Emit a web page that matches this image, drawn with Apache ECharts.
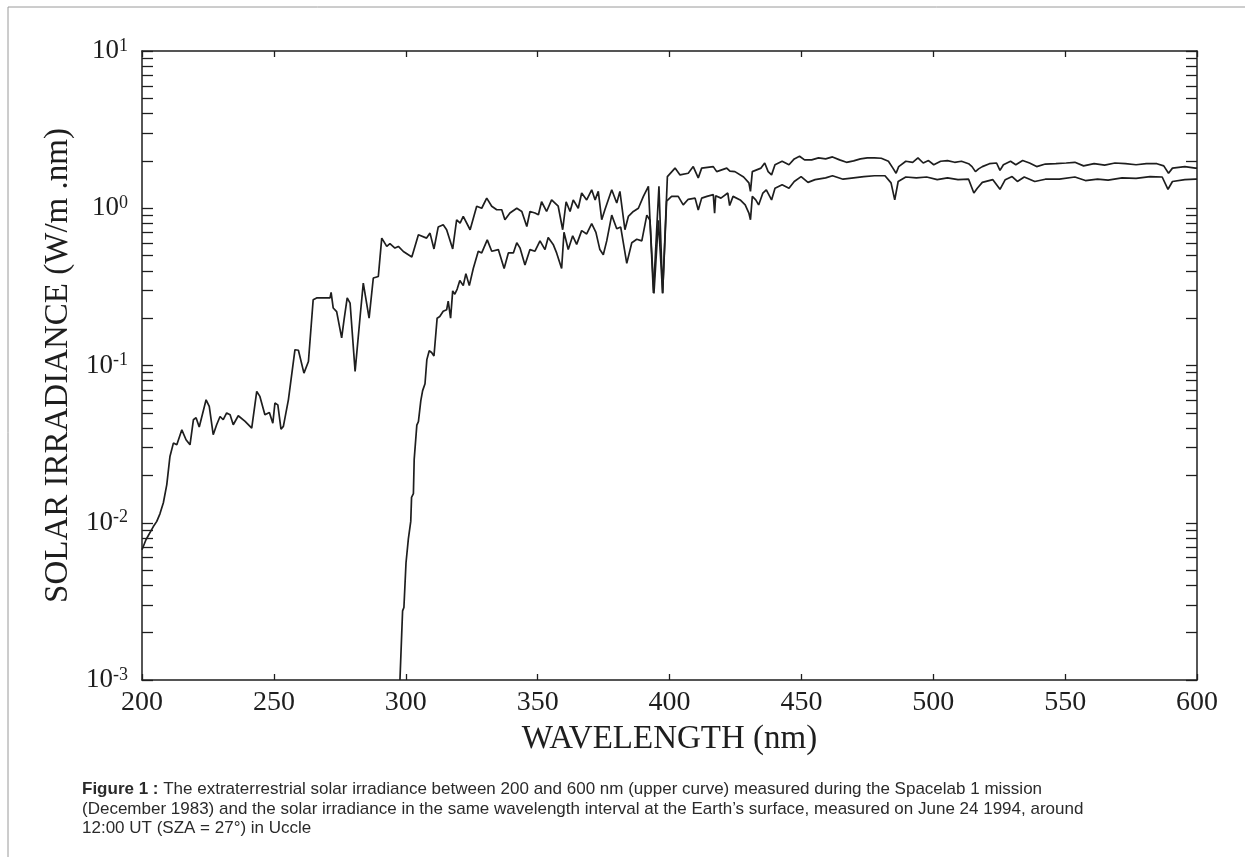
<!DOCTYPE html>
<html>
<head>
<meta charset="utf-8">
<script src="https://cdn.jsdelivr.net/npm/echarts@6.0.0/dist/echarts.min.js"></script>
<style>
  html, body { margin: 0; padding: 0; background: #fff; }
  #chart { width: 1245px; height: 857px; }
</style>
</head>
<body>
<div id="chart"></div>
<script>
// extraterrestrial irradiance (upper curve)
const upperWl = [200.0, 201.5, 204.3, 205.6, 206.8, 208.1, 209.4, 210.6, 211.9, 213.2, 215.1, 216.7, 218.2, 219.5, 220.5, 221.7,
  224.3, 225.5, 227.0, 228.3, 229.6, 230.8, 232.1, 233.4, 234.6, 236.5, 239.1, 241.6, 243.5, 244.7, 246.6, 248.3, 249.6,
  250.4, 251.5, 252.7, 253.6, 255.5, 258.0, 259.3, 261.4, 263.1, 263.7, 264.9, 266.2, 271.3, 271.7, 272.5, 273.8, 275.7,
  276.6, 277.8, 278.9, 280.8, 282.7, 283.9, 284.5, 286.1, 286.4, 287.7, 289.6, 290.9, 292.8, 294.0, 295.9, 297.2, 299.1,
  302.3, 304.8, 307.9, 309.2, 310.7, 312.3, 314.2, 315.5, 317.8, 319.3, 320.6, 321.8, 324.4, 326.9, 328.8, 330.7, 332.6,
  334.5, 336.4, 337.6, 339.5, 342.1, 344.0, 345.9, 347.1, 349.0, 350.3, 351.5, 353.4, 355.3, 357.8, 359.5, 360.8, 362.3,
  363.5, 365.4, 366.7, 368.6, 370.5, 371.8, 373.0, 374.3, 375.5, 378.1, 380.0, 381.2, 383.1, 384.4, 386.3, 388.2, 390.1,
  392.0, 393.9, 396.0, 397.4, 399.2, 402.1, 404.0, 407.1, 409.0, 410.9, 412.2, 416.6, 417.9, 421.7, 422.9, 424.8, 428.1,
  430.1, 430.7, 431.4, 434.7, 436.1, 437.4, 438.7, 440.0, 442.7, 445.3, 447.3, 449.3, 451.2, 453.9, 456.5, 459.2, 461.8,
  464.5, 467.1, 469.8, 472.4, 475.0, 477.7, 480.3, 483.0, 484.7, 485.9, 486.9, 489.6, 492.2, 494.2, 496.2, 498.2, 500.2,
  502.8, 505.4, 508.1, 510.7, 513.4, 514.7, 516.0, 517.2, 518.6, 521.3, 524.0, 525.3, 526.6, 529.3, 531.3, 533.9, 536.5,
  539.2, 542.5, 546.5, 550.4, 553.7, 557.0, 561.0, 565.0, 568.9, 572.9, 576.9, 580.8, 584.8, 587.4, 589.2, 590.7, 595.4,
  599.4, 600.0];
const upperVal = [0.00673, 0.0078, 0.00946, 0.0102, 0.0114, 0.0134, 0.0175, 0.0264, 0.0321, 0.0313, 0.039, 0.0337, 0.0313, 0.0452, 0.0466, 0.0406,
  0.0605, 0.055, 0.0363, 0.042, 0.0474, 0.0452, 0.0499, 0.0486, 0.042, 0.0479, 0.0441, 0.040, 0.0684, 0.0636, 0.0486, 0.0503, 0.043,
  0.0577, 0.0562, 0.0394, 0.041, 0.0605, 0.126, 0.125, 0.0895, 0.106, 0.109, 0.262, 0.269, 0.269, 0.292, 0.232, 0.22, 0.15,
  0.195, 0.269, 0.249, 0.0917, 0.205, 0.334, 0.342, 0.2, 0.205, 0.36, 0.368, 0.646, 0.572, 0.595, 0.558, 0.572, 0.531,
  0.49, 0.678, 0.646, 0.695, 0.551, 0.759, 0.785, 0.73, 0.551, 0.845, 0.805, 0.887, 0.73, 1.03, 1.0, 1.16, 1.03,
  0.978, 0.978, 0.845, 0.932, 1.0, 0.954, 0.766, 0.954, 0.932, 0.91, 1.10, 0.954, 1.13, 1.03, 0.73, 1.10, 0.954,
  1.13, 1.0, 1.25, 1.13, 1.31, 1.13, 1.28, 0.845, 0.978, 1.31, 1.08, 1.28, 0.73, 0.887, 0.954, 1.0, 1.19,
  1.38, 0.289, 1.38, 0.289, 1.59, 1.80, 1.63, 1.67, 1.84, 1.56, 1.80, 1.84, 1.71, 1.80, 1.72, 1.71, 1.58,
  1.45, 1.28, 1.71, 1.80, 1.94, 1.71, 1.63, 1.89, 1.99, 1.89, 2.06, 2.14, 2.03, 2.03, 2.09, 2.06, 2.12,
  2.03, 1.96, 2.0, 2.06, 2.09, 2.09, 2.08, 1.99, 1.80, 1.67, 1.84, 1.99, 1.96, 2.09, 1.94, 2.01, 1.89,
  1.99, 2.01, 1.96, 1.99, 1.92, 1.84, 1.71, 1.78, 1.84, 1.92, 1.94, 1.74, 1.89, 1.99, 1.89, 2.01, 1.94,
  1.84, 1.91, 1.92, 1.94, 1.96, 1.86, 1.92, 1.88, 1.94, 1.92, 1.89, 1.92, 1.92, 1.86, 1.67, 1.80, 1.84,
  1.80, 1.80];

// irradiance at the Earth's surface, Uccle (lower curve)
const lowerWl = [297.8, 298.5, 298.8, 299.3, 300.1, 301.0, 301.9, 302.2, 302.9, 303.2, 304.2, 304.8, 305.7, 306.4, 307.3, 308.0,
  308.9, 309.8, 310.7, 311.9, 312.9, 314.2, 315.5, 316.1, 317.0, 317.8, 318.6, 319.5, 320.5, 321.8, 322.8, 324.1, 325.6,
  327.5, 328.8, 330.9, 332.6, 335.1, 337.3, 338.9, 340.8, 342.1, 343.3, 345.2, 347.1, 349.0, 350.9, 352.8, 354.0, 355.9,
  357.2, 359.1, 360.0, 361.6, 363.3, 364.8, 366.7, 368.6, 370.5, 372.1, 373.6, 374.9, 376.2, 378.1, 380.0, 381.5, 383.8,
  385.7, 387.6, 389.5, 391.4, 392.6, 394.1, 395.8, 397.4, 398.9, 400.8, 403.3, 405.2, 407.1, 409.7, 410.9, 412.2, 414.2,
  416.6, 417.1, 417.5, 419.5, 422.1, 422.8, 424.1, 426.8, 428.7, 430.1, 430.7, 431.4, 432.7, 433.8, 435.4, 436.7, 438.7,
  440.0, 442.7, 445.3, 447.3, 449.9, 452.5, 455.2, 459.2, 461.8, 465.8, 469.8, 473.7, 477.7, 481.7, 484.0, 485.4, 486.7,
  489.6, 493.6, 497.5, 501.5, 505.4, 509.4, 513.4, 515.4, 516.7, 518.6, 522.6, 525.3, 527.3, 529.9, 531.9, 534.5, 538.5,
  542.5, 547.8, 553.7, 557.7, 562.3, 566.3, 571.6, 576.9, 582.2, 586.8, 589.0, 590.7, 595.4, 599.4, 600.0];
const lowerVal = [0.001, 0.00203, 0.00275, 0.00289, 0.00557, 0.00793, 0.0102, 0.0145, 0.0153, 0.0253, 0.0418, 0.044, 0.0596, 0.0692, 0.0766, 0.109,
  0.124, 0.121, 0.115, 0.2, 0.205, 0.221, 0.226, 0.257, 0.2, 0.298, 0.284, 0.306, 0.347, 0.322, 0.384, 0.322, 0.414,
  0.533, 0.52, 0.629, 0.533, 0.546, 0.414, 0.52, 0.52, 0.604, 0.56, 0.435, 0.546, 0.533, 0.62, 0.546, 0.652, 0.589,
  0.52, 0.414, 0.703, 0.546, 0.668, 0.589, 0.721, 0.686, 0.797, 0.703, 0.546, 0.506, 0.62, 0.904, 0.74, 0.759, 0.446,
  0.604, 0.635, 0.62, 0.904, 0.839, 0.287, 0.839, 0.287, 1.11, 1.19, 1.19, 1.05, 1.14, 1.16, 0.976, 1.16, 1.19,
  1.22, 0.93, 1.2, 1.16, 1.25, 1.04, 1.19, 1.13, 1.05, 0.932, 0.845, 1.19, 1.13, 1.05, 1.25, 1.31, 1.13,
  1.34, 1.41, 1.34, 1.48, 1.59, 1.46, 1.52, 1.56, 1.61, 1.53, 1.56, 1.59, 1.61, 1.61, 1.45, 1.13, 1.48,
  1.58, 1.56, 1.58, 1.52, 1.56, 1.52, 1.53, 1.25, 1.34, 1.46, 1.52, 1.32, 1.52, 1.59, 1.48, 1.58, 1.48,
  1.53, 1.53, 1.58, 1.50, 1.53, 1.51, 1.56, 1.55, 1.59, 1.58, 1.32, 1.48, 1.52, 1.53, 1.53];

const xTicks = [200, 250, 300, 350, 400, 450, 500, 550, 600];
// log axis ticks: every 1..9 x 10^k
const yTicks = [0.001, 0.002, 0.003, 0.004, 0.005, 0.006, 0.007, 0.008, 0.009,
  0.01, 0.02, 0.03, 0.04, 0.05, 0.06, 0.07, 0.08, 0.09,
  0.1, 0.2, 0.3, 0.4, 0.5, 0.6, 0.7, 0.8, 0.9,
  1, 2, 3, 4, 5, 6, 7, 8, 9, 10];

const serif = '"Liberation Serif", "DejaVu Serif", serif';
const sans = '"Liberation Sans", Arial, sans-serif';
const ink = '#1e1e1e';

function pairs(xs, ys) {
  return xs.map((x, i) => [x, ys[i]]);
}

const chart = echarts.init(document.getElementById('chart'), null, { renderer: 'canvas' });

const yBase = {
  type: 'log',
  logBase: 10,
  min: 0.001,
  max: 10,
  axisLine: { show: true, lineStyle: { color: ink, width: 1.5 } },
  axisTick: { show: true, inside: true, length: 11, customValues: yTicks, lineStyle: { color: ink, width: 1.3 } },
  splitLine: { show: false },
  minorTick: { show: false }
};

const xBase = {
  type: 'value',
  min: 200,
  max: 600,
  interval: 50,
  axisLine: { lineStyle: { color: ink, width: 1.5 } },
  axisTick: { inside: true, length: 6, customValues: xTicks, lineStyle: { color: ink, width: 1.3 } },
  splitLine: { show: false }
};

let option = {
  animation: false,
  backgroundColor: '#fff',
  grid: { left: 142, right: 48, top: 51, bottom: 177 },
  xAxis: [
    Object.assign({}, xBase, {
      position: 'bottom',
      name: 'WAVELENGTH (nm)',
      nameLocation: 'middle',
      nameGap: 43,
      nameTextStyle: { fontFamily: serif, fontSize: 33, color: ink },
      axisLabel: { fontFamily: serif, fontSize: 28, color: ink, margin: 9 }
    }),
    Object.assign({}, xBase, {
      position: 'top',
      axisLabel: { show: false }
    })
  ],
  yAxis: [
    Object.assign({}, yBase, {
      position: 'left',
      name: 'SOLAR IRRADIANCE (W/m .nm)',
      nameLocation: 'middle',
      nameRotate: 90,
      nameGap: 67,
      nameTextStyle: { fontFamily: serif, fontSize: 33, color: ink },
      axisLabel: {
        margin: 14,
        formatter: function (v) {
          const e = Math.round(Math.log10(v));
          return '{b|10}{s|' + e + '}';
        },
        rich: {
          b: { fontFamily: serif, fontSize: 27, color: ink, lineHeight: 28 },
          s: { fontFamily: serif, fontSize: 18, color: ink, lineHeight: 28, verticalAlign: 'top' }
        }
      }
    }),
    Object.assign({}, yBase, {
      position: 'right',
      axisLabel: { show: false }
    })
  ],
  series: [
    {
      name: 'extraterrestrial',
      type: 'line',
      xAxisIndex: 0,
      yAxisIndex: 0,
      showSymbol: false,
      data: pairs(upperWl, upperVal),
      lineStyle: { color: ink, width: 1.7 }
    },
    {
      name: 'surface',
      type: 'line',
      xAxisIndex: 0,
      yAxisIndex: 0,
      showSymbol: false,
      data: pairs(lowerWl, lowerVal),
      lineStyle: { color: ink, width: 1.7 }
    }
  ],
  graphic: [
    {
      type: 'rect',
      shape: { x: 8, y: 7, width: 1260, height: 880 },
      style: { fill: 'none', stroke: '#9a9a9a', lineWidth: 1 },
      silent: true
    },
    {
      type: 'text',
      left: 82,
      top: 781,
      style: {
        text: '{b|Figure 1 :} The extraterrestrial solar irradiance between 200 and 600 nm (upper curve) measured during the Spacelab 1 mission',
        font: '17px ' + sans,
        fill: '#2a2a2a',
        rich: { b: { fontWeight: 'bold', fontSize: 17, fontFamily: sans, fill: '#2a2a2a' } }
      }
    },
    {
      type: 'text',
      left: 82,
      top: 801,
      style: {
        text: '(December 1983) and the solar irradiance in the same wavelength interval at the Earth\u2019s surface, measured on June 24 1994, around',
        font: '17px ' + sans,
        fill: '#2a2a2a'
      }
    },
    {
      type: 'text',
      left: 82,
      top: 820,
      style: {
        text: '12:00 UT (SZA = 27\u00b0) in Uccle',
        font: '17px ' + sans,
        fill: '#2a2a2a'
      }
    }
  ]
};

chart.setOption(option);
</script>
</body>
</html>
